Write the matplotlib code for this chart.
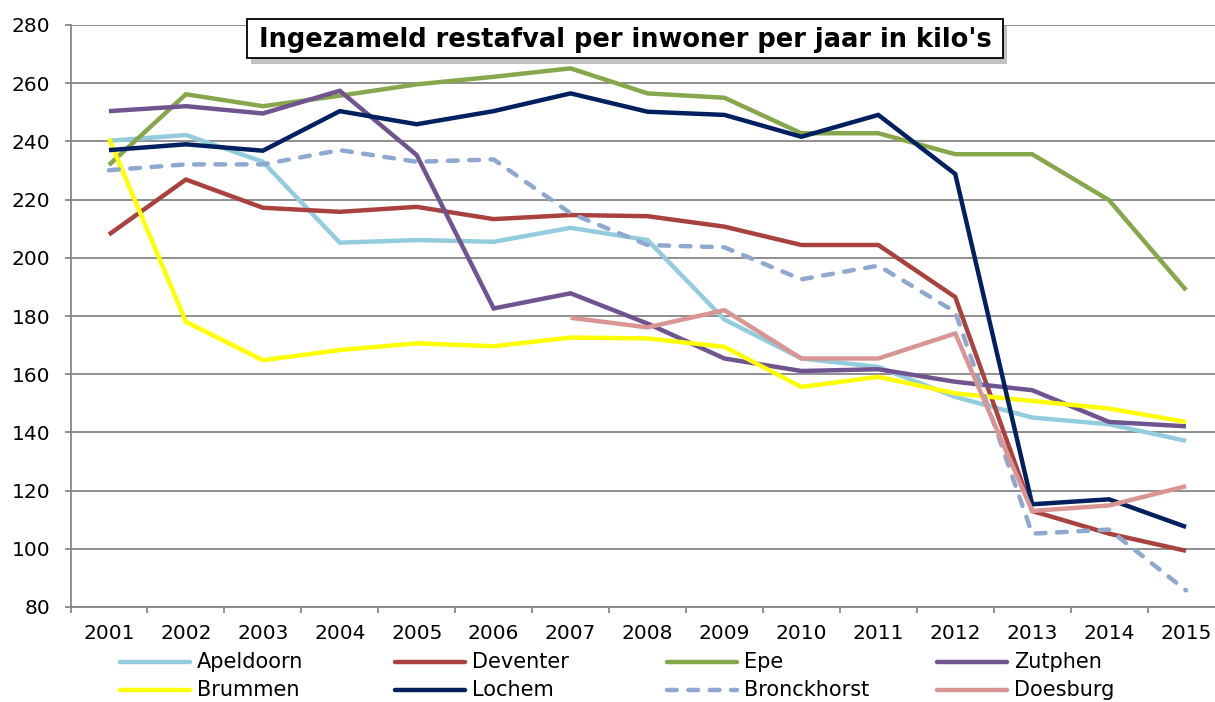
import matplotlib
matplotlib.use("Agg")
import matplotlib.pyplot as plt
import matplotlib.patheffects as pe
from matplotlib.lines import Line2D
from matplotlib.patches import Rectangle

years = ["2001", "2002", "2003", "2004", "2005", "2006", "2007", "2008",
         "2009", "2010", "2011", "2012", "2013", "2014", "2015"]

apeldoorn = [240.2, 242.2, 233.0, 205.2, 206.1, 205.5, 210.3, 206.1, 178.8, 165.4, 162.5, 152.2, 145.1, 142.8, 137.1]
deventer = [208.0, 226.9, 217.2, 215.8, 217.5, 213.3, 214.7, 214.3, 210.7, 204.4, 204.4, 186.5, 113.0, 105.2, 99.3]
epe = [231.9, 256.2, 252.1, 255.7, 259.6, 262.2, 265.1, 256.5, 255.0, 242.8, 242.8, 235.6, 235.6, 219.8, 188.9]
zutphen = [250.4, 252.1, 249.6, 257.4, 235.3, 182.6, 187.8, 177.4, 165.4, 161.1, 161.7, 157.4, 154.5, 143.6, 142.1]
brummen = [241.0, 178.0, 164.8, 168.3, 170.6, 169.6, 172.6, 172.3, 169.4, 155.6, 159.1, 153.4, 150.8, 148.2, 143.6]
lochem = [237.0, 239.0, 236.8, 250.4, 245.9, 250.4, 256.5, 250.2, 249.1, 241.6, 249.1, 228.8, 115.3, 117.0, 107.5]
bronckhorst = [230.1, 232.1, 232.1, 237.0, 233.0, 233.8, 215.3, 204.4, 203.6, 192.6, 197.3, 181.4, 105.2, 106.6, 85.7]
doesburg = [None, None, None, None, None, None, 179.4, 176.1, 182.0, 165.4, 165.4, 174.0, 113.0, 114.9, 121.5]

series_names = ["Apeldoorn", "Deventer", "Epe", "Zutphen", "Brummen", "Lochem", "Bronckhorst", "Doesburg"]
series_values = [apeldoorn, deventer, epe, zutphen, brummen, lochem, bronckhorst, doesburg]
colors = ["#93CDDD", "#A9423F", "#86A74B", "#6F5490", "#FFFF00", "#002060", "#8EA8D0", "#D99594"]
yticks = [80, 100, 120, 140, 160, 180, 200, 220, 240, 260, 280]
title = "Ingezameld restafval per inwoner per jaar in kilo's"

W, H = 1215, 702
fig = plt.figure(figsize=(W / 100, H / 100), dpi=100)
left, right, top, bottom = 70.5, 1224.5, 25, 607
ax = fig.add_axes([left / W, 1 - bottom / H, (right - left) / W, (bottom - top) / H])

x = list(range(len(years)))
gc = "#868686"
for name, vals, col in zip(series_names, series_values, colors):
    xs = [xi for xi, v in zip(x, vals) if v is not None]
    ys = [v for v in vals if v is not None]
    if name == "Bronckhorst":
        ax.plot(xs, ys, color=col, lw=3.2, dashes=(2.2, 2.6), dash_capstyle="round",
                solid_joinstyle="round", zorder=3)
    else:
        ax.plot(xs, ys, color=col, lw=3.2, solid_joinstyle="miter", solid_capstyle="butt", zorder=3)

ax.set_xlim(-0.5, len(years) - 0.5)
ax.set_ylim(80, 280)
ax.set_yticks(yticks)
ax.set_yticklabels([str(v) for v in yticks], fontsize=14.5, color="black")
ax.yaxis.grid(True, color=gc, lw=1.3)
ax.set_axisbelow(True)

ax.set_xticks(x)
ax.set_xticklabels(years, fontsize=14.5, color="black")
ax.set_xticks([i - 0.5 for i in range(len(years) + 1)], minor=True)
ax.tick_params(axis="x", which="major", length=0, pad=12)
ax.tick_params(axis="x", which="minor", length=4.5, width=1.3, color=gc, direction="out")
ax.tick_params(axis="y", length=4.5, width=1.3, color=gc, direction="out", pad=10)

for s in ["top", "right"]:
    ax.spines[s].set_visible(False)
for s in ["left", "bottom"]:
    ax.spines[s].set_color(gc)
    ax.spines[s].set_linewidth(1.3)

# Title with shadowed box
bx0, bx1, by0, by1 = 247, 1003, 19, 58
rect = Rectangle((bx0 / W, 1 - by1 / H), (bx1 - bx0) / W, (by1 - by0) / H,
                 transform=fig.transFigure, facecolor="white", edgecolor="black", lw=1.3, zorder=10)
rect.set_path_effects([pe.SimplePatchShadow(offset=(3, -4), shadow_rgbFace="#999999", alpha=0.6), pe.Normal()])
fig.add_artist(rect)
fig.text((bx0 + bx1) / 2 / W, 1 - 40 / H, title, ha="center", va="center", fontsize=18.5,
         fontweight="bold", color="black", zorder=11)

# Legend (manual layout: 2 rows x 4 columns)
col_x = [120, 395, 667, 937]
row_y = [662, 690]
order = [[0, 1, 2, 3], [4, 5, 6, 7]]
for r, row in enumerate(order):
    for c, idx in enumerate(row):
        x0 = col_x[c]
        yy = 1 - row_y[r] / H
        if series_names[idx] == "Bronckhorst":
            ln = Line2D([x0 / W, (x0 + 70) / W], [yy, yy], transform=fig.transFigure,
                        color=colors[idx], lw=3.2, dashes=(2.2, 2.6), dash_capstyle="round")
        else:
            ln = Line2D([x0 / W, (x0 + 70) / W], [yy, yy], transform=fig.transFigure,
                        color=colors[idx], lw=3.2, solid_capstyle="round")
        fig.add_artist(ln)
        fig.text((x0 + 77) / W, yy, series_names[idx], ha="left", va="center",
                 fontsize=15, color="black")

fig.savefig("out.png", dpi=100)
